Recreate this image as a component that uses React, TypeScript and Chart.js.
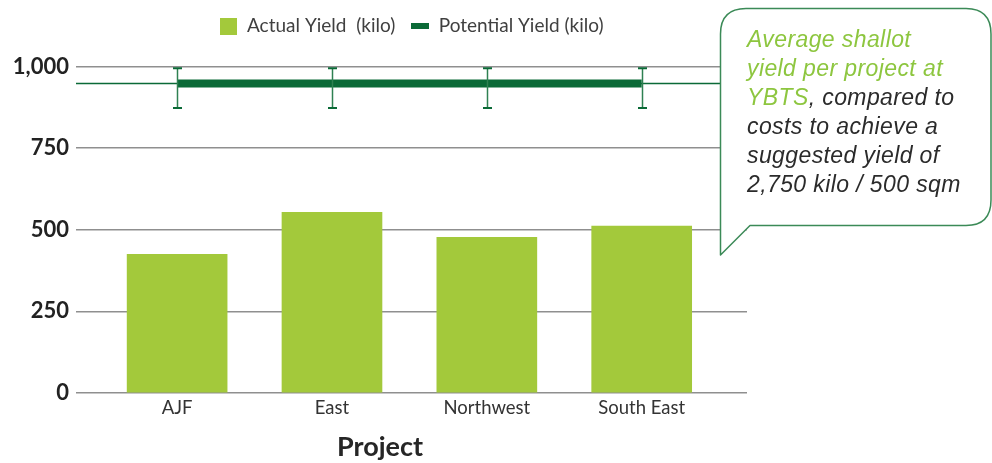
import React, { useEffect, useRef } from 'react';
import { Chart, registerables } from 'chart.js';

Chart.register(...registerables);

// ---- data ----
const categories = ['AJF', 'East', 'Northwest', 'South East'];
const actualYield = [425, 553, 477, 511];
const potentialYield = [948, 948, 948, 948];
const potentialHigh = [995, 995, 995, 995];
const potentialLow = [873, 873, 873, 873];
const yTicks = [0, 250, 500, 750, 1000];
const legendLabels = ['Actual Yield  (kilo)', 'Potential Yield (kilo)'];
const xTitle = 'Project';
const calloutGreenLines = ['Average shallot', 'yield per project at', 'YBTS'];
const calloutDarkLines = [', compared to', 'costs to achieve a', 'suggested yield of', '2,750 kilo / 500 sqm'];

// ---- styles ----
const BAR = '#a3c93b';
const DARK = '#0b6a37';
const ERR = '#2f8152';
const GRID = '#8f8f8f';
const FONT = 'Lato, "Open Sans", sans-serif';

function makeMarker(w: number, h: number, color: string) {
  const c = document.createElement('canvas');
  c.width = w;
  c.height = h;
  const g = c.getContext('2d')!;
  g.fillStyle = color;
  g.fillRect(0, 0, w, h);
  return c;
}

const refLinePlugin = {
  id: 'refLine',
  beforeDatasetsDraw(chart: any) {
    const { ctx, chartArea, scales } = chart;
    const y = scales.y.getPixelForValue(potentialYield[0]);
    ctx.save();
    ctx.strokeStyle = DARK;
    ctx.lineWidth = 1.5;
    ctx.beginPath();
    ctx.moveTo(chartArea.left, y);
    ctx.lineTo(chartArea.right, y);
    ctx.stroke();
    ctx.restore();
  },
};

const errorBarsPlugin = {
  id: 'errorBars',
  afterDatasetsDraw(chart: any) {
    const { ctx, scales } = chart;
    ctx.save();
    potentialYield.forEach((_, i) => {
      const px = Math.round(scales.x.getPixelForValue(i)) + 0.5;
      const yTop = scales.y.getPixelForValue(potentialHigh[i]);
      const yBot = scales.y.getPixelForValue(potentialLow[i]);
      ctx.strokeStyle = ERR;
      ctx.lineWidth = 1.5;
      ctx.beginPath();
      ctx.moveTo(px, yTop);
      ctx.lineTo(px, yBot);
      ctx.stroke();
      ctx.strokeStyle = DARK;
      ctx.lineWidth = 2;
      ctx.beginPath();
      ctx.moveTo(px - 4.5, yTop);
      ctx.lineTo(px + 4.5, yTop);
      ctx.moveTo(px - 4.5, yBot);
      ctx.lineTo(px + 4.5, yBot);
      ctx.stroke();
    });
    ctx.restore();
  },
};

const axisTitlePlugin = {
  id: 'axisTitle',
  afterDraw(chart: any) {
    const { ctx, chartArea } = chart;
    ctx.save();
    ctx.font = `bold 27px ${FONT}`;
    ctx.fillStyle = '#262626';
    ctx.textAlign = 'center';
    ctx.textBaseline = 'middle';
    ctx.fillText(xTitle, chartArea.left + 304, chart.height - 16);
    ctx.restore();
  },
};

const legendSpacerPlugin = {
  id: 'legendSpacer',
  beforeLayout(chart: any) {
    const lg = chart.legend;
    if (lg && !lg._spacerPatched) {
      const orig = lg.fit;
      lg.fit = function () {
        orig.call(this);
        this.height += 21;
      };
      lg._spacerPatched = true;
    }
  },
};

function ChartCanvas() {
  const ref = useRef<HTMLCanvasElement | null>(null);
  useEffect(() => {
    if (!ref.current) return;
    const markers = [makeMarker(17, 17, BAR), makeMarker(18, 6, DARK)];
    const chart = new Chart(ref.current, {
      type: 'bar',
      data: {
        datasets: [
          {
            type: 'bar',
            label: legendLabels[0],
            data: categories.map((_, i) => ({ x: i, y: actualYield[i] })),
            backgroundColor: BAR,
            barThickness: 100,
            order: 2,
          } as any,
          {
            type: 'line',
            label: legendLabels[1],
            data: categories.map((_, i) => ({ x: i, y: potentialYield[i] })),
            borderColor: DARK,
            backgroundColor: DARK,
            borderWidth: 8,
            borderCapStyle: 'butt',
            pointRadius: 0,
            order: 1,
          } as any,
        ],
      },
      options: {
        animation: false,
        responsive: false,
        devicePixelRatio: 1,
        layout: { padding: { top: 0.5, right: 245, bottom: 0, left: 0 } },
        plugins: {
          tooltip: { enabled: false },
          legend: {
            display: true,
            position: 'top',
            fullSize: false,
            labels: {
              usePointStyle: true,
              pointStyleWidth: 18,
              boxHeight: 17,
              padding: 16,
              color: '#404040',
              font: { family: FONT, size: 19 },
              generateLabels: () =>
                legendLabels.map((t, i) => ({
                  text: t,
                  pointStyle: markers[i],
                  fillStyle: i === 0 ? BAR : DARK,
                  strokeStyle: 'transparent',
                  lineWidth: 0,
                  hidden: false,
                  datasetIndex: i,
                  fontColor: '#404040',
                })),
            },
          },
        },
        scales: {
          x: {
            type: 'linear',
            offset: false,
            min: -0.653,
            max: 3.68,
            afterBuildTicks: (s: any) => {
              s.ticks = categories.map((_, i) => ({ value: i }));
            },
            afterFit: (s: any) => {
              s.height = 70;
            },
            ticks: {
              autoSkip: false,
              maxRotation: 0,
              padding: 4,
              color: '#333333',
              font: { family: FONT, size: 18.5 },
              callback: (v: any) => categories[v] ?? '',
            },
            grid: { display: false, drawTicks: false },
            border: { display: false },
          },
          y: {
            min: 0,
            max: 1000,
            afterBuildTicks: (s: any) => {
              s.ticks = yTicks.map((v) => ({ value: v }));
            },
            afterFit: (s: any) => {
              s.width = 76;
            },
            ticks: {
              padding: 7,
              color: '#222222',
              font: { family: FONT, size: 22, weight: 'bold' },
              callback: (v: any) => Number(v).toLocaleString('en-US'),
            },
            grid: { color: GRID, lineWidth: 1.5, drawTicks: false },
            border: { display: false },
          },
        },
      } as any,
      plugins: [legendSpacerPlugin, refLinePlugin, errorBarsPlugin, axisTitlePlugin],
    });
    return () => chart.destroy();
  }, []);
  return <canvas ref={ref} width={992} height={463} style={{ display: 'block', width: 992, height: 463 }} />;
}

export default function App() {
  return (
    <div style={{ position: 'absolute', left: 0, top: 0, width: 992, height: 463, background: '#ffffff', overflow: 'hidden' }}>
      <ChartCanvas />
      <svg width={992} height={463} style={{ position: 'absolute', left: 0, top: 0, pointerEvents: 'none' }}>
        <path
          d="M 720.5 255 L 720.5 34 Q 720.5 8.5 746 8.5 L 966 8.5 Q 991 8.5 991 34 L 991 200 Q 991 225.5 966 225.5 L 750 225.5 Z"
          fill="#ffffff"
          stroke="#3b8a57"
          strokeWidth={1.5}
          strokeLinejoin="round"
        />
      </svg>
      <div
        style={{
          position: 'absolute',
          left: 747,
          top: 25,
          width: 240,
          fontFamily: '"Liberation Sans", Arial, sans-serif',
          fontStyle: 'italic',
          fontSize: 23,
          letterSpacing: '0.4px',
          lineHeight: '29px',
          color: '#2b2b2b',
          whiteSpace: 'nowrap',
        }}
      >
        <span style={{ color: '#8dc63f' }}>{calloutGreenLines[0]}</span>
        <br />
        <span style={{ color: '#8dc63f' }}>{calloutGreenLines[1]}</span>
        <br />
        <span style={{ color: '#8dc63f' }}>{calloutGreenLines[2]}</span>
        {calloutDarkLines[0]}
        <br />
        {calloutDarkLines[1]}
        <br />
        {calloutDarkLines[2]}
        <br />
        {calloutDarkLines[3]}
      </div>
    </div>
  );
}
